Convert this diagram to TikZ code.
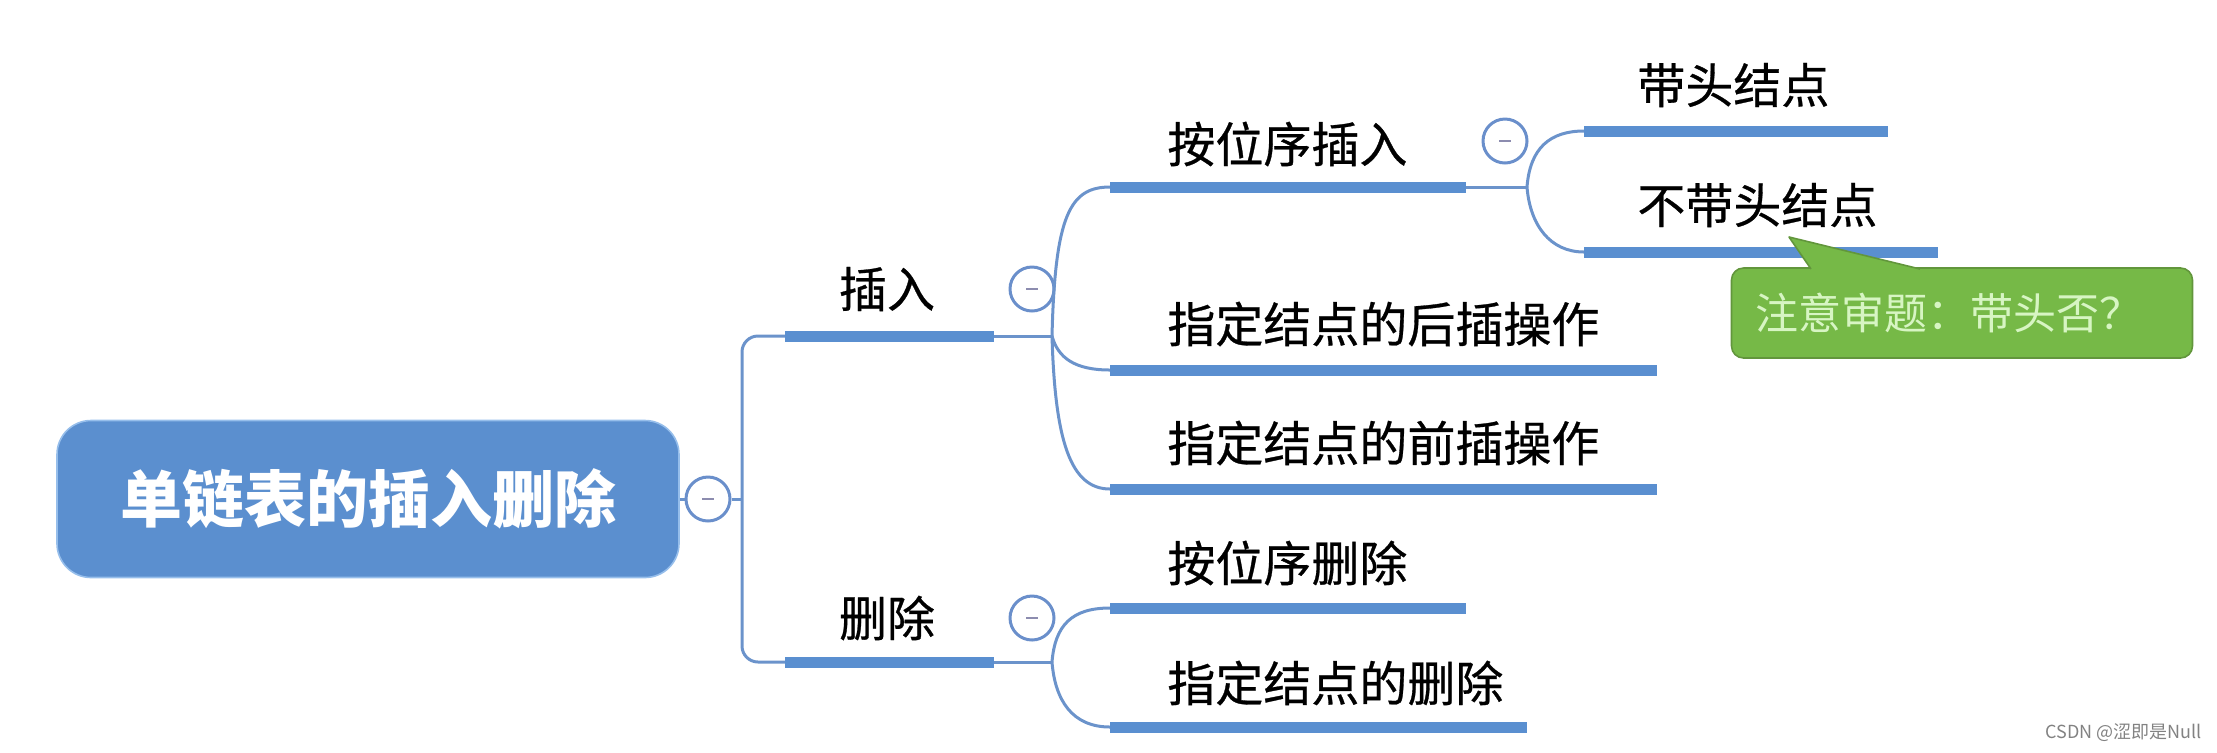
\documentclass[tikz,border=0pt]{standalone}
\usepackage{fontspec}
\newfontfamily\cjk{Noto Sans CJK SC}
\newfontfamily\cjkm{Noto Sans CJK SC}[FakeBold=0.6]
\definecolor{barblue}{RGB}{90,143,208}
\definecolor{connblue}{RGB}{107,147,203}
\definecolor{circblue}{RGB}{106,143,203}
\definecolor{minusgray}{RGB}{140,140,175}
\definecolor{rootblue}{RGB}{91,143,207}
\definecolor{rootedge}{RGB}{150,190,235}
\definecolor{notegreen}{RGB}{118,185,71}
\definecolor{noteedge}{RGB}{98,150,60}
\definecolor{notetext}{RGB}{215,245,195}
\definecolor{wmgray}{RGB}{130,130,130}
\begin{document}
\begin{tikzpicture}[x=0.5pt,y=-0.5pt,
  barline/.style={line width=5.5pt, draw=barblue},
  conn/.style={line width=1.5pt, draw=connblue},
  mcirc/.style={circle, draw=circblue, line width=1.5pt, fill=white, minimum size=22pt, inner sep=0pt,
    path picture={\draw[minusgray, line width=1.2pt] ([xshift=-3pt]path picture bounding box.center) -- ([xshift=3pt]path picture bounding box.center);}},
  lbl/.style={font=\cjkm\fontsize{24}{24}\selectfont, text=black, inner sep=0pt, anchor=west},
  rootbox/.style={rounded corners=17pt, fill=rootblue, draw=rootedge, line width=0.8pt, minimum width=311pt, minimum height=78.5pt, text=white, font=\cjk\bfseries\fontsize{31}{31}\selectfont},
  notebox/.style={rounded corners=6pt, fill=notegreen, draw=noteedge, line width=0.8pt, minimum width=230.5pt, minimum height=45pt}
]
\useasboundingbox (0,0) rectangle (2217,752);

% root
\node[rootbox] (root) at (368,499) {单链表的插入删除};
\node[mcirc] (m0) at (708,499) {};
\coordinate (tr) at (742,499);
\draw[conn] (root.east) -- (m0.west);
\draw[conn] (m0.east) -- (tr);

% level 1 bars
\coordinate (bI1) at (785,336); \coordinate (bI2) at (994,336);
\coordinate (bD1) at (785,662); \coordinate (bD2) at (994,662);
\draw[conn, rounded corners=8pt] (bI1) -| (tr) |- (bD1);
\draw[barline] (bI1) -- (bI2);
\draw[barline] (bD1) -- (bD2);
\node[lbl, anchor=center] (tI) at (887,289) {插入};
\node[lbl, anchor=center] (tD) at (887,618) {删除};
\node[mcirc] (mI) at (1032,289) {};
\node[mcirc] (mD) at (1032,618) {};
\coordinate (J1) at (1052,336);
\coordinate (J2) at (1052,662);
\draw[conn] (bI2) -- (J1);
\draw[conn] (bD2) -- (J2);

% insert children
\coordinate (bA1) at (1110,187); \coordinate (bA2) at (1466,187);
\coordinate (bB1) at (1110,370); \coordinate (bB2) at (1657,370);
\coordinate (bC1) at (1110,489); \coordinate (bC2) at (1657,489);
\draw[conn] (J1) .. controls (1055,215) and (1070,187) .. (bA1);
\draw[conn] (J1) .. controls (1058,358) and (1075,370) .. (bB1);
\draw[conn] (J1) .. controls (1055,440) and (1070,489) .. (bC1);
\draw[barline] (bA1) -- (bA2);
\draw[barline] (bB1) -- (bB2);
\draw[barline] (bC1) -- (bC2);
\node[lbl] (tA) at (1167,144) {按位序插入};
\node[lbl] (tB) at (1167,324) {指定结点的后插操作};
\node[lbl] (tC) at (1167,443) {指定结点的前插操作};

% delete children
\coordinate (bE1) at (1110,608); \coordinate (bE2) at (1466,608);
\coordinate (bF1) at (1110,727); \coordinate (bF2) at (1527,727);
\draw[conn] (J2) .. controls (1055,625) and (1072,608) .. (bE1);
\draw[conn] (J2) .. controls (1055,700) and (1072,727) .. (bF1);
\draw[barline] (bE1) -- (bE2);
\draw[barline] (bF1) -- (bF2);
\node[lbl] (tE) at (1167,563) {按位序删除};
\node[lbl] (tF) at (1167,683) {指定结点的删除};

% 按位序插入 children
\node[mcirc] (mA) at (1505,141) {};
\coordinate (J3) at (1527,187);
\draw[conn] (bA2) -- (J3);
\coordinate (bG1) at (1584,131); \coordinate (bG2) at (1888,131);
\coordinate (bH1) at (1584,252); \coordinate (bH2) at (1938,252);
\draw[conn] (J3) .. controls (1530,148) and (1550,131) .. (bG1);
\draw[conn] (J3) .. controls (1530,225) and (1550,252) .. (bH1);
\draw[barline] (bG1) -- (bG2);
\draw[barline] (bH1) -- (bH2);
\node[lbl] (tG) at (1637,85) {带头结点};
\node[lbl] (tH) at (1637,205) {不带头结点};

% callout
\node[notebox] (note) at (1962,313) {};
\coordinate (tip) at (1789,237);
\coordinate (pl) at (1811,269);
\coordinate (pr) at (1920,269);
\fill[notegreen] (pl) -- (tip) -- (pr) -- ([yshift=-1pt]pr) -- ([yshift=-1pt]pl) -- cycle;
\draw[noteedge, line width=0.8pt, line join=round] (pl) -- (tip) -- (pr);
\node[font=\cjk\fontsize{21.5}{21.5}\selectfont, text=notetext, inner sep=0pt, anchor=west] (nt) at (1755,313) {注意审题：带头否？};

% watermark
\node[font=\cjk\fontsize{9}{9}\selectfont, text=wmgray, inner sep=0pt, anchor=east] (wm) at (2202,733) {CSDN @涩即是Null};
\end{tikzpicture}
\end{document}
